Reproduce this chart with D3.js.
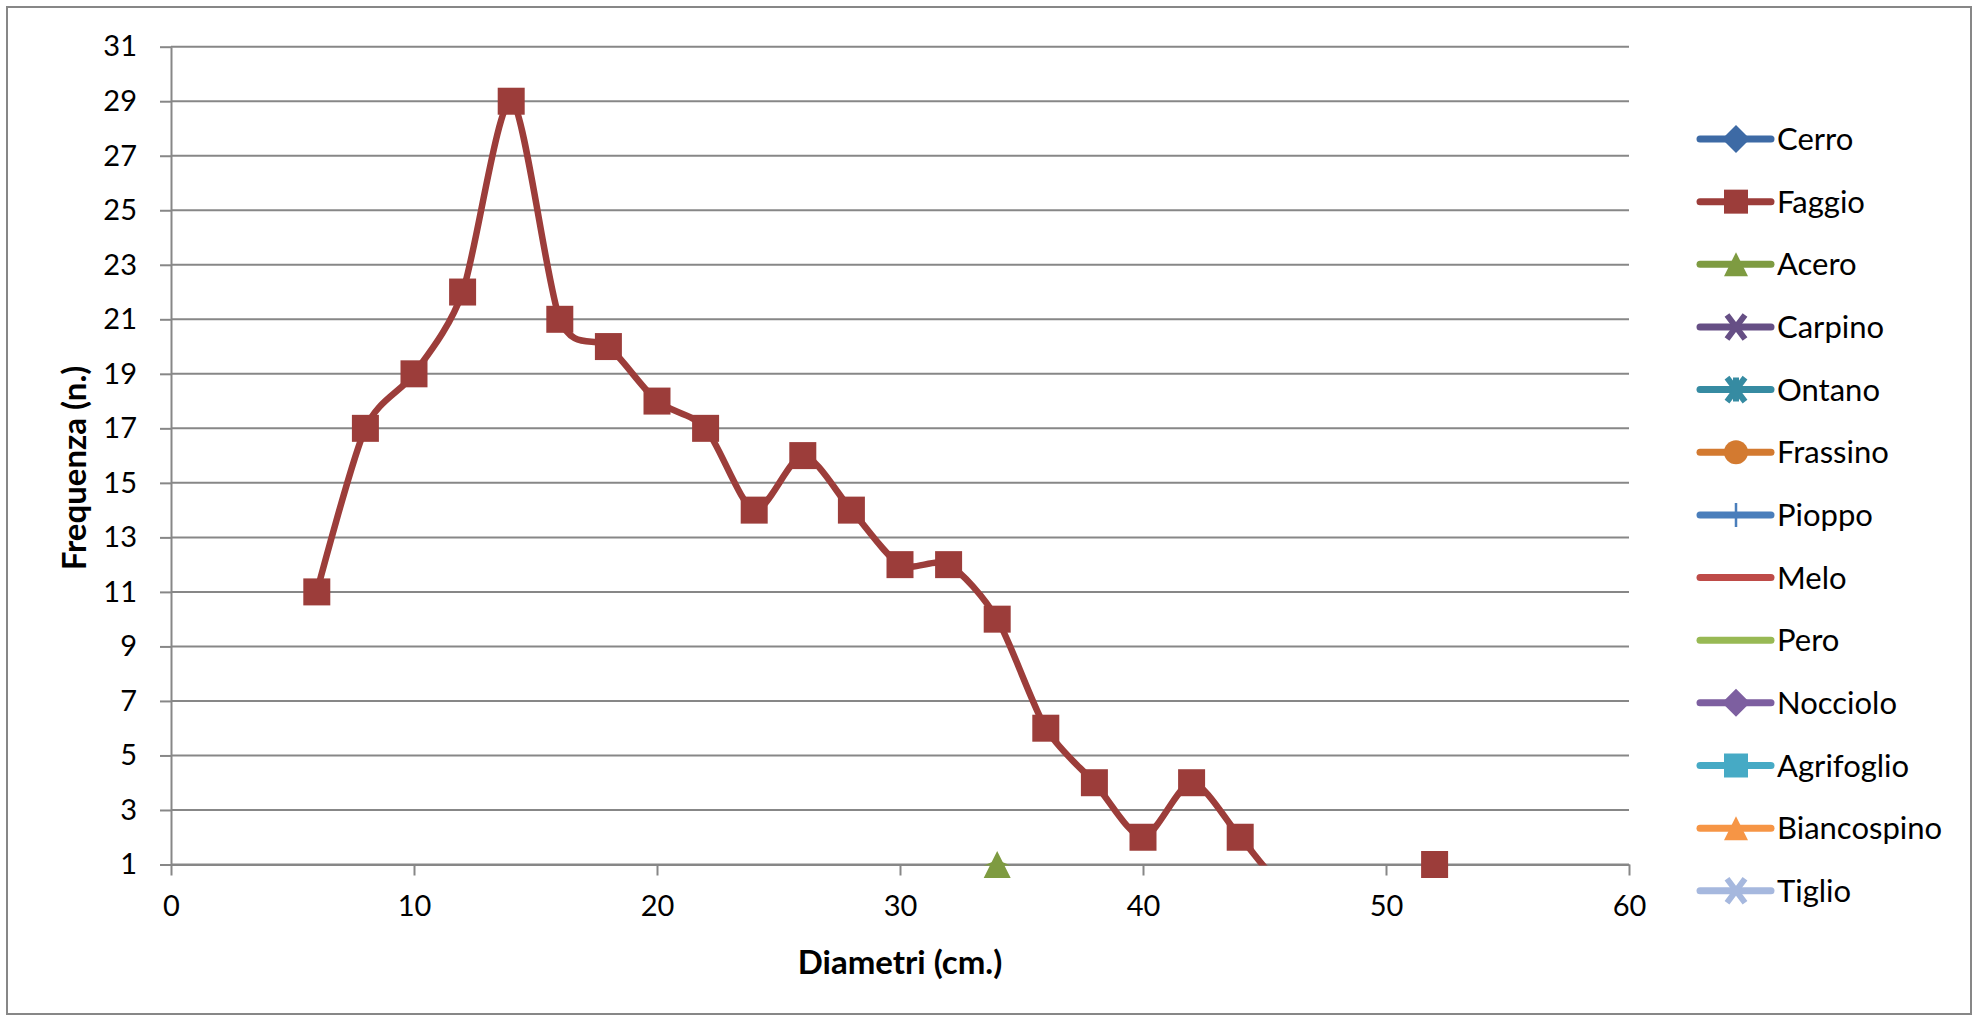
<!DOCTYPE html>
<html>
<head>
<meta charset="utf-8">
<script src="https://cdn.jsdelivr.net/npm/d3@7"></script>
<style>
  html, body { margin: 0; padding: 0; background: #fff; }
  svg { display: block; }
  text { font-family: Lato, "Open Sans", sans-serif; fill: #000; }
</style>
</head>
<body>
<svg id="chart" width="1978" height="1021"></svg>
<script>
// Diameter classes (cm) and tree counts per species
const diameters = [6, 8, 10, 12, 14, 16, 18, 20, 22, 24, 26, 28, 30, 32, 34, 36, 38, 40, 42, 44, 46, 48, 50, 52, 54];
const faggio    = [11, 17, 19, 22, 29, 21, 20, 18, 17, 14, 16, 14, 12, 12, 10, 6, 4, 2, 4, 2, 0, 0, 0, 1, 0];
const acero     = [0, 0, 0, 0, 0, 0, 0, 0, 0, 0, 0, 0, 0, 0, 1, 0, 0, 0, 0, 0, 0, 0, 0, 0, 0];

const speciesNames = ["Cerro", "Faggio", "Acero", "Carpino", "Ontano", "Frassino", "Pioppo",
                      "Melo", "Pero", "Nocciolo", "Agrifoglio", "Biancospino", "Tiglio"];
const speciesValues = [[], faggio, acero, [], [], [], [], [], [], [], [], [], []];
const speciesColors = ["#3d6aa5", "#9c3d3a", "#7e9b41", "#664f85", "#368ba2", "#d37a30", "#4a7ebb",
                       "#be4b48", "#98b954", "#7d5fa0", "#46aac5", "#f69545", "#a6b8de"];
const speciesMarkers = ["diamond", "square", "triangle", "x", "star", "circle", "plus",
                        "none", "none", "diamond", "square", "triangle", "x"];

const xTicks = [0, 10, 20, 30, 40, 50, 60];
const yTicks = [1, 3, 5, 7, 9, 11, 13, 15, 17, 19, 21, 23, 25, 27, 29, 31];

const svg = d3.select("#chart");
const W = 1978, H = 1021;
const plot = { left: 171, right: 1629, top: 46.7, bottom: 864.5 };
const gridColor = "#878787";

// outer chart frame
svg.append("rect")
  .attr("x", 7).attr("y", 7).attr("width", W - 14).attr("height", H - 14)
  .attr("fill", "#fff").attr("stroke", gridColor).attr("stroke-width", 2);

const x = d3.scaleLinear().domain([0, 60]).range([plot.left, plot.right]);
const y = d3.scaleLinear().domain([1, 31]).range([plot.bottom, plot.top]);

// horizontal gridlines
svg.append("g").selectAll("line").data(yTicks).join("line")
  .attr("x1", plot.left).attr("x2", plot.right)
  .attr("y1", d => y(d)).attr("y2", d => y(d))
  .attr("stroke", gridColor).attr("stroke-width", 2);

// y axis
const yAxis = svg.append("g").attr("transform", `translate(${plot.left},0)`)
  .call(d3.axisLeft(y).tickValues(yTicks).tickSize(11).tickSizeOuter(0).tickPadding(23).tickFormat(d3.format("d")));
yAxis.select(".domain").attr("stroke", gridColor).attr("stroke-width", 2);
yAxis.selectAll(".tick line").attr("stroke", gridColor).attr("stroke-width", 2);
yAxis.selectAll(".tick text").attr("font-size", 29).attr("font-family", "Lato").attr("fill", "#000");

// x axis
const xAxis = svg.append("g").attr("transform", `translate(0,${plot.bottom})`)
  .call(d3.axisBottom(x).tickValues(xTicks).tickSize(11).tickSizeOuter(0).tickPadding(20).tickFormat(d3.format("d")));
xAxis.select(".domain").attr("stroke", gridColor).attr("stroke-width", 2);
xAxis.selectAll(".tick line").attr("stroke", gridColor).attr("stroke-width", 2);
xAxis.selectAll(".tick text").attr("font-size", 29).attr("font-family", "Lato").attr("fill", "#000");

// axis titles
svg.append("text")
  .attr("x", (plot.left + plot.right) / 2).attr("y", 974)
  .attr("text-anchor", "middle").attr("font-size", 33).attr("font-weight", "bold")
  .text("Diametri (cm.)");
svg.append("text")
  .attr("transform", "translate(86,468) rotate(-90)")
  .attr("text-anchor", "middle").attr("font-size", 33).attr("font-weight", "bold")
  .text("Frequenza (n.)");

// marker shapes
function markerPath(type, s) {
  const h = s / 2;
  switch (type) {
    case "diamond": return `M0,${-h - 2}L${h + 2},0L0,${h + 2}L${-h - 2},0Z`;
    case "square": return `M${-h},${-h}H${h}V${h}H${-h}Z`;
    case "triangle": return `M0,${-h}L${h},${h}H${-h}Z`;
    case "circle": return d3.symbol(d3.symbolCircle, Math.PI * h * h)();
    default: return null;
  }
}
function drawMarker(g, type, color, cx, cy, s) {
  const h = s / 2;
  if (type === "none") return;
  if (type === "x" || type === "star" || type === "plus") {
    let d = "";
    if (type !== "plus") d += `M${-h + 3},${-h}L${h - 3},${h}M${h - 3},${-h}L${-h + 3},${h}`;
    if (type !== "x") d += `M0,${-h}V${h}`;
    if (type === "plus") d += `M${-h},0H${h}`;
    g.append("path").attr("transform", `translate(${cx},${cy})`)
      .attr("d", d).attr("fill", "none").attr("stroke", color)
      .attr("stroke-width", type === "plus" ? 2.5 : 6);
    return;
  }
  g.append("path").attr("transform", `translate(${cx},${cy})`)
    .attr("d", markerPath(type, s)).attr("fill", color);
}

// plot-area clip for lines
svg.append("defs").append("clipPath").attr("id", "plotClip")
  .append("rect").attr("x", plot.left).attr("y", plot.top - 4)
  .attr("width", plot.right - plot.left).attr("height", plot.bottom - plot.top + 5);

const line = d3.line()
  .x(d => x(d[0])).y(d => y(d[1]))
  .curve(d3.curveCardinal.tension(0.2));

const seriesG = svg.append("g");
speciesNames.forEach((name, i) => {
  const vals = speciesValues[i];
  if (!vals.length) return;
  const pts = diameters.map((dm, k) => [dm, vals[k]]);
  const g = seriesG.append("g");
  g.append("path")
    .attr("clip-path", "url(#plotClip)")
    .attr("d", line(pts))
    .attr("fill", "none").attr("stroke", speciesColors[i])
    .attr("stroke-width", 6.5).attr("stroke-linejoin", "round").attr("stroke-linecap", "round");
  pts.filter(p => p[1] >= 1).forEach(p =>
    drawMarker(g, speciesMarkers[i], speciesColors[i], x(p[0]), y(p[1]), 27));
});

// legend
const legend = svg.append("g");
const legY0 = 139, legStep = 62.65;
speciesNames.forEach((name, i) => {
  const ly = legY0 + i * legStep;
  const g = legend.append("g");
  g.append("line").attr("x1", 1700).attr("x2", 1771).attr("y1", ly).attr("y2", ly)
    .attr("stroke", speciesColors[i]).attr("stroke-width", 7).attr("stroke-linecap", "round");
  drawMarker(g, speciesMarkers[i], speciesColors[i], 1736, ly, 24);
  g.append("text").attr("x", 1777).attr("y", ly + 11)
    .attr("font-size", 31).text(name);
});
</script>
</body>
</html>
